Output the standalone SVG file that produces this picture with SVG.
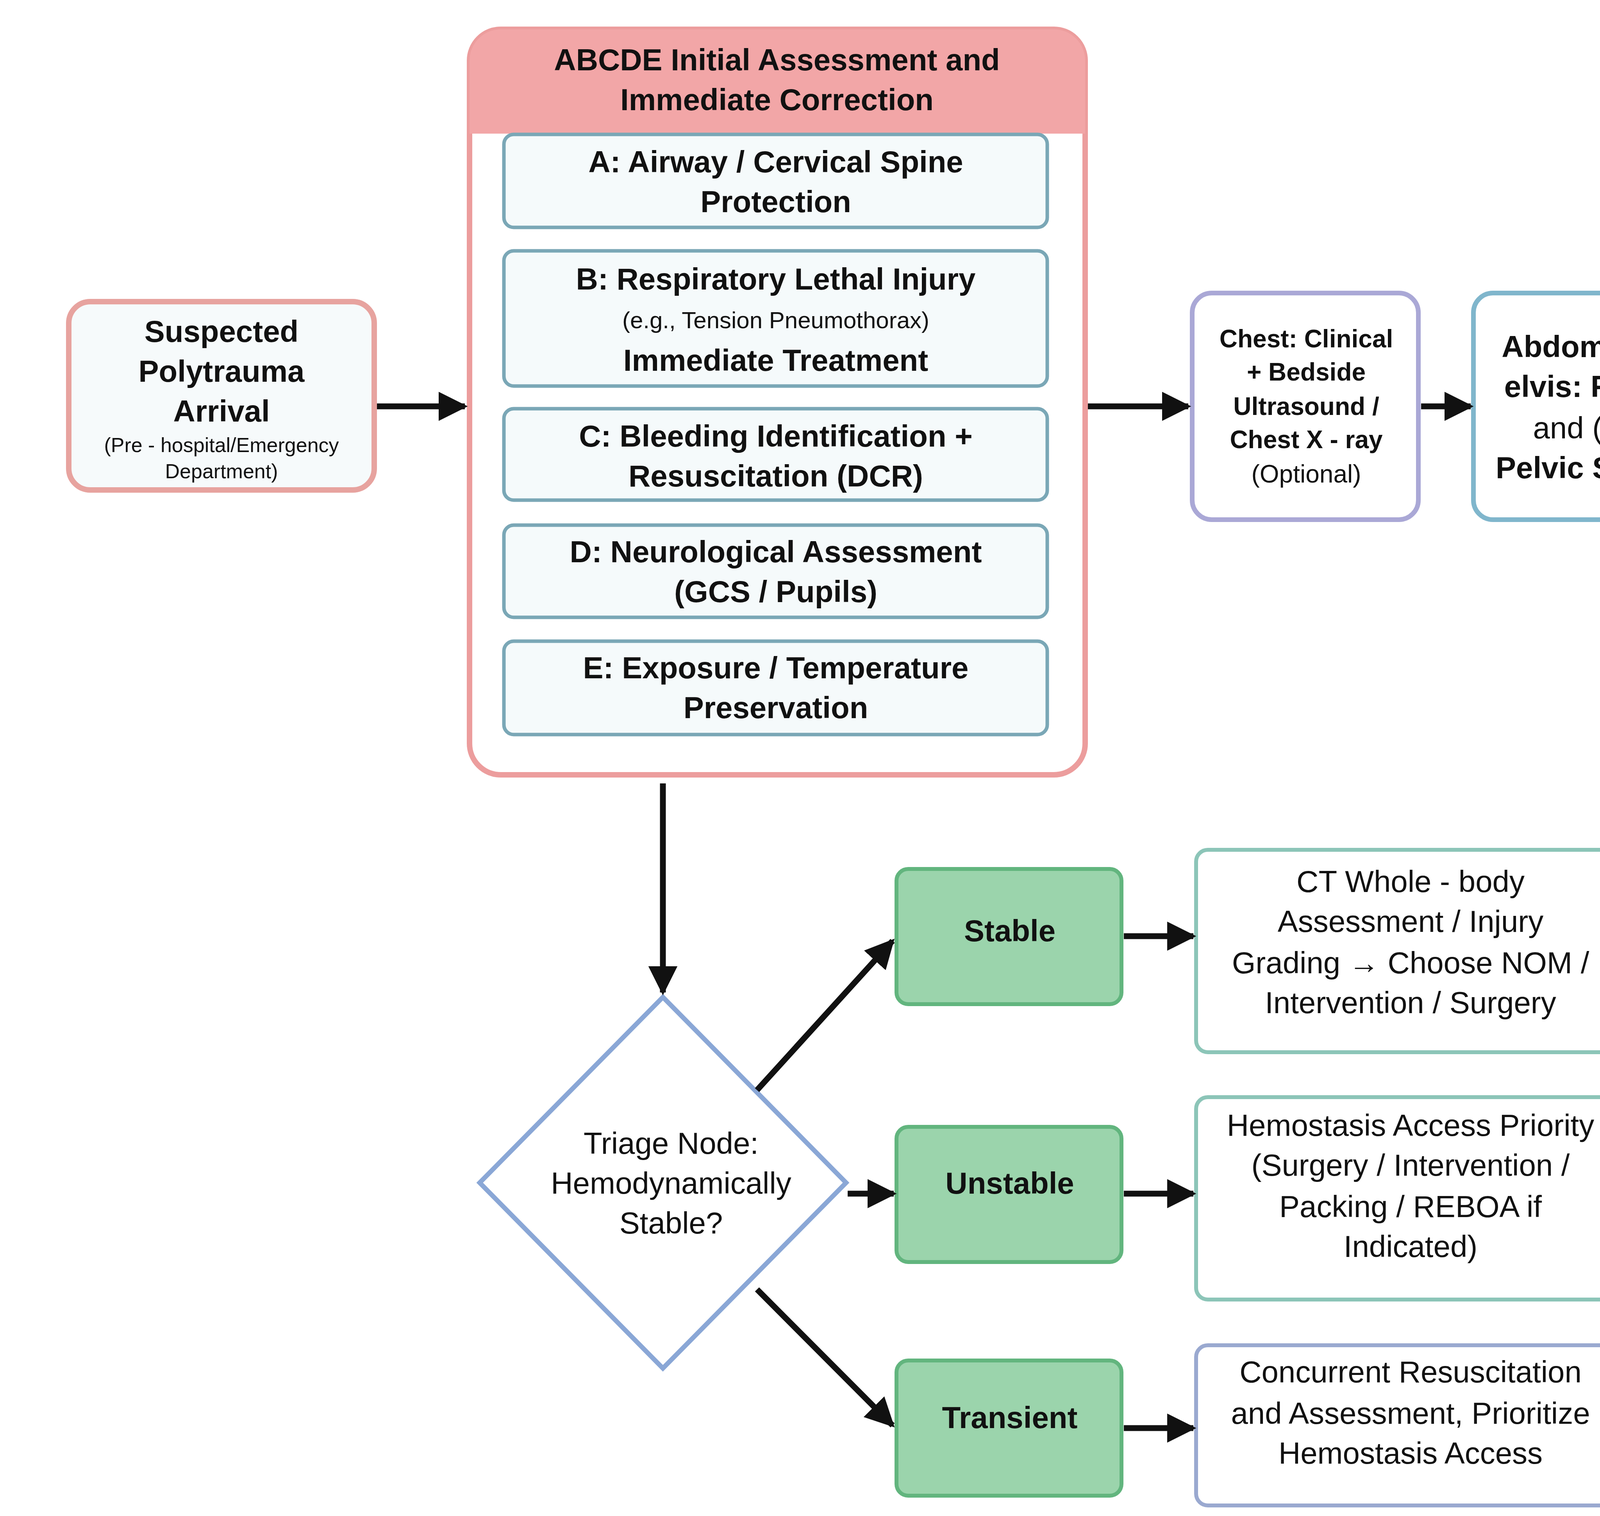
<svg xmlns="http://www.w3.org/2000/svg" width="5543" height="3880" viewBox="0 0 5543 3880">
<style>
text{font-family:"Liberation Sans",Arial,sans-serif;text-anchor:middle;fill:#111}
.b{font-weight:bold}
.t78{font-size:78px}.t60{font-size:60px}.t52{font-size:52px}.t64{font-size:64px}.t72{font-size:72px}
.sub{fill:#f5fafb;stroke:#7aa7b6;stroke-width:9}
.grn{fill:#9bd4ac;stroke:#62b57e;stroke-width:10}
.line{stroke:#111;stroke-width:15;fill:none;marker-end:url(#ah)}
</style>
<defs>
<marker id="ah" viewBox="0 0 10 10" refX="9" refY="5" markerWidth="5" markerHeight="5" orient="auto" markerUnits="strokeWidth"><path d="M0,0L10,5L0,10z" fill="#111"/></marker>
</defs>
<rect width="5543" height="3880" fill="#fff"/>
<g id="suspected">
<rect x="176" y="772" width="782" height="482" rx="55" fill="#f6fafb" stroke="#e7a39f" stroke-width="14"/>
<text class="b t78" x="567" y="875">Suspected</text>
<text class="b t78" x="567" y="977">Polytrauma</text>
<text class="b t78" x="567" y="1079">Arrival</text>
<text class="t52" x="567" y="1157">(Pre - hospital/Emergency</text>
<text class="t52" x="567" y="1224">Department)</text>
</g>
<g id="abcde">
<rect x="1202" y="75" width="1576" height="1908" rx="80" fill="#fff" stroke="#ec9d9d" stroke-width="14"/>
<path d="M1202,342V155a80,80 0 0 1 80-80H2698a80,80 0 0 1 80,80V342z" fill="#f2a6a7"/>
<text class="b t78" x="1989" y="180">ABCDE Initial Assessment and</text>
<text class="b t78" x="1989" y="282">Immediate Correction</text>
<g id="a"><rect class="sub" x="1290" y="344" width="1391" height="238" rx="25"/>
<text class="b t78" x="1986" y="441">A: Airway / Cervical Spine</text><text class="b t78" x="1986" y="543">Protection</text></g>
<g id="b"><rect class="sub" x="1290" y="642" width="1391" height="346" rx="25"/>
<text class="b t78" x="1986" y="741">B: Respiratory Lethal Injury</text><text class="t60" x="1986" y="840">(e.g., Tension Pneumothorax)</text><text class="b t78" x="1986" y="949">Immediate Treatment</text></g>
<g id="c"><rect class="sub" x="1290" y="1046" width="1391" height="234" rx="25"/>
<text class="b t78" x="1986" y="1143">C: Bleeding Identification +</text><text class="b t78" x="1986" y="1245">Resuscitation (DCR)</text></g>
<g id="d"><rect class="sub" x="1290" y="1344" width="1391" height="236" rx="25"/>
<text class="b t78" x="1986" y="1439">D: Neurological Assessment</text><text class="b t78" x="1986" y="1541">(GCS / Pupils)</text></g>
<g id="e"><rect class="sub" x="1290" y="1641" width="1391" height="239" rx="25"/>
<text class="b t78" x="1986" y="1736">E: Exposure / Temperature</text><text class="b t78" x="1986" y="1838">Preservation</text></g>
</g>
<g id="chest">
<rect x="3052" y="750" width="579" height="580" rx="50" fill="#fff" stroke="#aaa8d6" stroke-width="12"/>
<text class="b t64" x="3344" y="889">Chest: Clinical</text>
<text class="b t64" x="3344" y="974">+ Bedside</text>
<text class="b t64" x="3344" y="1062">Ultrasound /</text>
<text class="b t64" x="3344" y="1147">Chest X - ray</text>
<text class="t64" x="3344" y="1235">(Optional)</text>
</g>
<g id="abdomen">
<rect x="3772" y="750" width="575" height="580" rx="50" fill="#fff" stroke="#80b6cc" stroke-width="12"/>
<text class="b t78" x="4061" y="914">Abdomen/P</text>
<text class="b t78" x="4061" y="1016">elvis: FAST</text>
<text class="t78" x="4061" y="1122">and (or)</text>
<text class="b t78" x="4061" y="1224">Pelvic Score</text>
</g>
<g id="head">
<rect x="4492" y="750" width="578" height="580" rx="50" fill="#fff" stroke="#9aa9d9" stroke-width="12"/>
<text class="t78" x="4777" y="861"><tspan class="b">Head: GCS /</tspan></text>
<text class="t78" x="4777" y="967"><tspan class="b">Pupils</tspan> and</text>
<text class="t78" x="4777" y="1069">(or) <tspan class="b">Head CT</tspan></text>
<text class="t78" x="4777" y="1171">(If Conditions</text>
<text class="t78" x="4777" y="1274">Permit)</text>
</g>
<g id="triage">
<path d="M1697,2552L2166,3027L1697,3502L1228,3027z" fill="#fff" stroke="#8aa7d6" stroke-width="12"/>
<text class="t78" x="1718" y="2953">Triage Node:</text>
<text class="t78" x="1718" y="3055">Hemodynamically</text>
<text class="t78" x="1718" y="3157">Stable?</text>
</g>
<g id="stable"><rect class="grn" x="2295" y="2224" width="576" height="346" rx="30"/><text class="b t78" x="2585" y="2409">Stable</text></g>
<g id="unstable"><rect class="grn" x="2295" y="2884" width="576" height="346" rx="30"/><text class="b t78" x="2585" y="3055">Unstable</text></g>
<g id="transient"><rect class="grn" x="2295" y="3482" width="576" height="346" rx="30"/><text class="b t78" x="2585" y="3655">Transient</text></g>
<g id="ct">
<rect x="3062" y="2175" width="1100" height="518" rx="30" fill="#fff" stroke="#8cc5b8" stroke-width="10"/>
<text class="t78" x="3611" y="2283">CT Whole - body</text>
<text class="t78" x="3611" y="2385">Assessment / Injury</text>
<text class="t78" x="3611" y="2491">Grading → Choose NOM /</text>
<text class="t78" x="3611" y="2593">Intervention / Surgery</text>
</g>
<g id="hemostasis">
<rect x="3062" y="2808" width="1100" height="518" rx="30" fill="#fff" stroke="#8cc5b8" stroke-width="10"/>
<text class="t78" x="3611" y="2907">Hemostasis Access Priority</text>
<text class="t78" x="3611" y="3009">(Surgery / Intervention /</text>
<text class="t78" x="3611" y="3115">Packing / REBOA if</text>
<text class="t78" x="3611" y="3217">Indicated)</text>
</g>
<g id="icu">
<rect x="4408" y="2776" width="1012" height="538" rx="30" fill="#fff" stroke="#7fa0d6" stroke-width="12"/>
<text class="t72" x="4913" y="2851">ICU (Neurology/Trauma</text>
<text class="t72" x="4913" y="2946">Intensive Care) +</text>
<text class="t72" x="4913" y="3041">Secondary Assessment /</text>
<text class="t72" x="4913" y="3136">Repeat Imaging /</text>
<text class="t72" x="4913" y="3228">Complication Prevention</text>
</g>
<g id="concurrent">
<rect x="3062" y="3443" width="1100" height="410" rx="30" fill="#fff" stroke="#9aa9d0" stroke-width="10"/>
<text class="t78" x="3611" y="3538">Concurrent Resuscitation</text>
<text class="t78" x="3611" y="3644">and Assessment, Prioritize</text>
<text class="t78" x="3611" y="3746">Hemostasis Access</text>
</g>
<g id="connectors">
<path class="line" d="M965,1040H1190"/>
<path class="line" d="M2785,1040H3042"/>
<path class="line" d="M3638,1040H3765"/>
<path class="line" d="M4353,1040H4485"/>
<path class="line" d="M1697,2005V2540"/>
<path class="line" d="M1938,2790L2285,2408"/>
<path class="line" d="M2170,3055H2288"/>
<path class="line" d="M1938,3300L2285,3648"/>
<path class="line" d="M2877,2396H3055"/>
<path class="line" d="M2877,3055H3055"/>
<path class="line" d="M2877,3655H3055"/>
<path class="line" d="M4168,3055H4400"/>
</g>
</svg>
